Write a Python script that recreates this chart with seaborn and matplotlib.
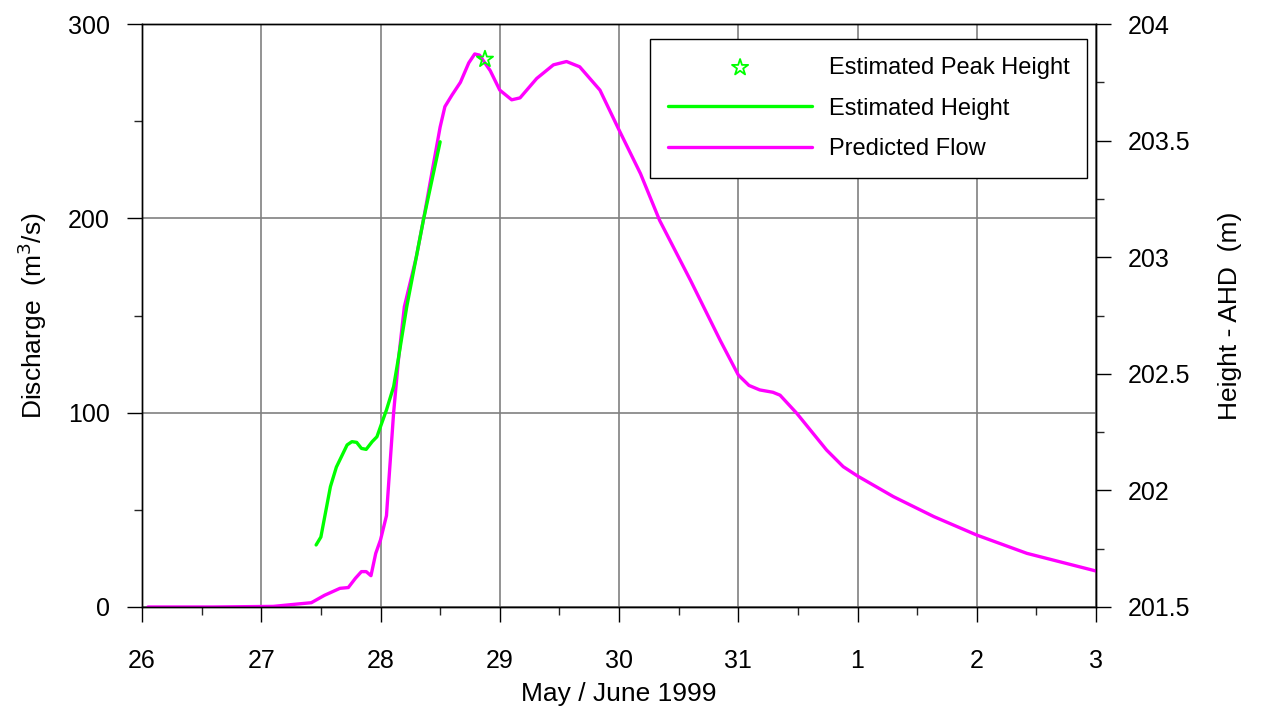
import pandas as pd
import seaborn as sns
import matplotlib.pyplot as plt
from matplotlib.ticker import MultipleLocator

# Predicted flow (left axis, m3/s) - days counted from 1 May, so 32 = 1 June
flow_day = [26.05, 26.6, 27.1, 27.3, 27.42, 27.53, 27.66, 27.73, 27.79, 27.84, 27.88, 27.92,
            27.96, 28.0, 28.05, 28.07, 28.11, 28.15, 28.2, 28.3, 28.37, 28.44, 28.5,
            28.54, 28.6, 28.67, 28.74, 28.79, 28.83, 28.92, 29.0, 29.1, 29.17, 29.31,
            29.45, 29.56, 29.67, 29.84, 30.0, 30.18, 30.34, 30.6, 30.85, 31.0, 31.09,
            31.18, 31.29, 31.35, 31.49, 31.74, 31.88, 32.0, 32.3, 32.64, 33.0, 33.42, 34.0]
flow_q = [0, 0, 0.3, 1.5, 2.2, 6, 9.6, 10, 14.8, 18.2, 18.2, 16.1,
          27.6, 34.5, 47, 65, 100, 127, 154.5, 180, 202.6, 226.6, 247,
          257.5, 263.5, 270, 280, 284.6, 284, 276, 266, 261, 262, 272,
          279, 280.7, 278, 266, 245.5, 223, 199, 168, 137, 119.4, 114,
          111.7, 110.5, 109, 99.7, 80.8, 72.2, 67.4, 56.8, 46.5, 37, 27.6, 18.5]

# Estimated height (right axis, m AHD)
height_day = [27.46, 27.50, 27.58, 27.63, 27.72, 27.76, 27.80, 27.84, 27.88, 27.93, 27.97,
              28.01, 28.05, 28.11, 28.15, 28.22, 28.36, 28.50]
height_m = [201.766, 201.80, 202.016, 202.10, 202.195, 202.209, 202.206, 202.18, 202.176,
            202.209, 202.23, 202.288, 202.345, 202.445, 202.566, 202.788, 203.16, 203.495]

peak_day = [28.876]
peak_m = [203.849]

day_ticks = [26, 27, 28, 29, 30, 31, 32, 33, 34]
day_labels = ['26', '27', '28', '29', '30', '31', '1', '2', '3']

sns.set_style('ticks')
plt.rcParams['font.family'] = ['Liberation Sans', 'DejaVu Sans']
plt.rcParams['text.color'] = 'black'
plt.rcParams['axes.labelcolor'] = 'black'

flow = pd.DataFrame({'day': flow_day, 'q': flow_q})
height = pd.DataFrame({'day': height_day, 'h': height_m})
peak = pd.DataFrame({'day': peak_day, 'h': peak_m})

fig = plt.figure(figsize=(12.61, 7.11), dpi=100)
ax = fig.add_axes([0.1126, 0.1463, 0.7566, 0.8199])
ax2 = ax.twinx()

sns.lineplot(data=flow, x='day', y='q', ax=ax, color='#ff00ff', lw=2.4, sort=False,
             label='Predicted Flow', legend=False)
sns.lineplot(data=height, x='day', y='h', ax=ax2, color='#00ff00', lw=2.4, sort=False,
             label='Estimated Height', legend=False)
sns.scatterplot(data=peak, x='day', y='h', ax=ax2, marker='*', s=150, facecolor='none',
                edgecolor='#00ff00', linewidth=1.3, label='Estimated Peak Height', legend=False)

ax.set_xlim(26, 34)
ax.set_ylim(0, 300)
ax2.set_ylim(201.5, 204)
ax.set_xticks(day_ticks)
ax.set_xticklabels(day_labels)
ax.set_yticks([0, 100, 200, 300])
ax.yaxis.set_minor_locator(MultipleLocator(50))
ax.xaxis.set_minor_locator(MultipleLocator(0.5))
ax2.set_yticks([201.5, 202, 202.5, 203, 203.5, 204])
ax2.set_yticklabels(['201.5', '202', '202.5', '203', '203.5', '204'])
ax2.yaxis.set_minor_locator(MultipleLocator(0.25))

ax.grid(True, which='major', color='#808080', lw=1.2)
ax.set_axisbelow(True)
for a in (ax, ax2):
    a.tick_params(which='major', direction='out', length=11, width=1, colors='black',
                  labelsize=18, pad=12)
    a.tick_params(which='minor', direction='out', length=6, width=1)
    for s in a.spines.values():
        s.set_visible(True)
        s.set_color('black')
        s.set_linewidth(1)
ax.tick_params(axis='x', which='major', pad=19)

ax.set_xlabel('May / June 1999', fontsize=19, labelpad=7)
ax.set_ylabel('Discharge  (m$^3$/s)', fontsize=19, labelpad=14)
ax2.set_ylabel('Height - AHD  (m)', fontsize=19, labelpad=20)

h1, l1 = ax.get_legend_handles_labels()
h2, l2 = ax2.get_legend_handles_labels()
handles = [h2[1], h2[0], h1[0]]
labels = [l2[1], l2[0], l1[0]]
leg = ax2.legend(handles, labels, loc='upper right', bbox_to_anchor=(0.9906, 0.9743),
                 frameon=True, fancybox=False, framealpha=1, edgecolor='black',
                 handlelength=6.1, handletextpad=0.7, borderpad=0.75, labelspacing=0.8,
                 fontsize=17, borderaxespad=0)
leg.get_frame().set_linewidth(1)

fig.savefig('out.png', dpi=100)
